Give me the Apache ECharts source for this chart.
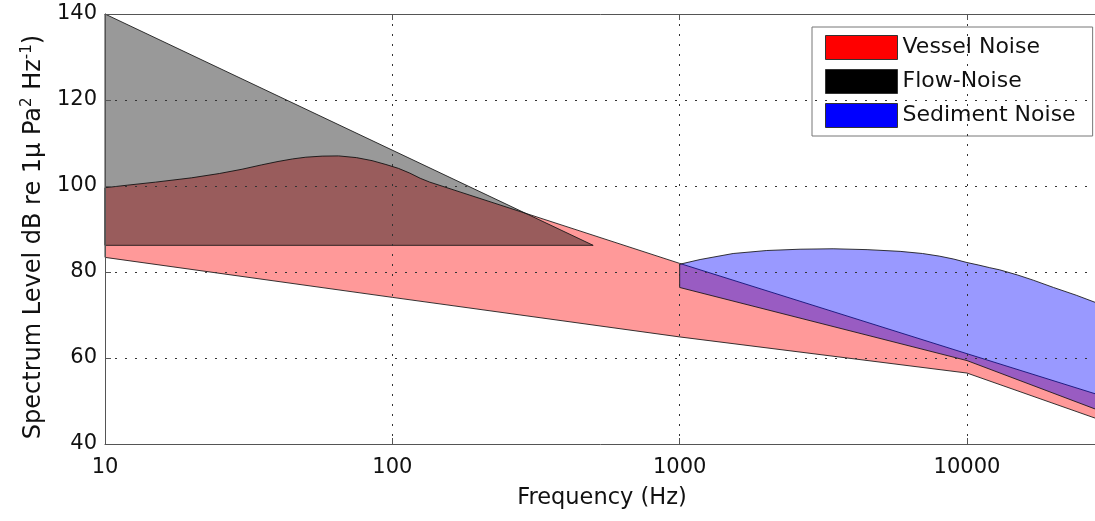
<!DOCTYPE html>
<html>
<head>
<meta charset="utf-8">
<script src="https://cdn.jsdelivr.net/npm/echarts@6/dist/echarts.min.js"></script>
<style>
  html, body { margin: 0; padding: 0; background: #fff; }
  #chart { width: 1095px; height: 521px; }
</style>
</head>
<body>
<div id="chart"></div>
<script>
// ---- data (frequency in Hz, level in dB) ----
const xTickValues = [10, 100, 1000, 10000];
const yTickValues = [40, 60, 80, 100, 120, 140];
const xMin = 10;
const xMax = 28800;

// Vessel noise band: upper edge left->right, then lower edge right->left
const vesselNoise = [
  [10, 99.6], [12, 100.2], [15, 100.9], [20, 101.9], [25, 102.9], [30, 103.9],
  [35, 104.9], [40, 105.7], [45, 106.3], [50, 106.7], [57, 106.95], [65, 107.0],
  [75, 106.6], [85, 105.9], [95, 105.0], [105, 104.1], [115, 103.0], [125, 101.8],
  [135, 100.9], [1000, 82.0], [10000, 61.0], [28800, 51.4],
  [28800, 45.7], [10000, 56.5], [1000, 64.9], [100, 74.1], [10, 83.4]
];
// Flow noise triangle
const flowNoise = [
  [10, 140], [500, 86.2], [10, 86.2]
];
// Sediment noise band
const sedimentNoise = [
  [1000, 81.8], [1178, 82.9], [1535, 84.3], [2010, 85.0], [2624, 85.3],
  [3420, 85.4], [4490, 85.2], [5850, 84.8], [7000, 84.3], [8000, 83.7],
  [9000, 83.0], [10000, 82.2], [11000, 81.6], [12000, 81.0], [13000, 80.5],
  [15000, 79.3], [17000, 78.1], [20000, 76.4], [24000, 74.6], [28800, 72.6],
  [28800, 47.8], [10000, 59.4], [1000, 76.4]
];

const seriesNames = ['Vessel Noise', 'Flow-Noise', 'Sediment Noise'];
const seriesData = [vesselNoise, flowNoise, sedimentNoise];
const solidColors = ['#ff0000', '#000000', '#0000ff'];
const fillColors = ['rgba(255,0,0,0.4)', 'rgba(0,0,0,0.4)', 'rgba(0,0,255,0.4)'];

const FONT = '"DejaVu Sans", "Liberation Sans", Arial, sans-serif';

const chart = echarts.init(document.getElementById('chart'), null, { renderer: 'canvas' });

function makeSeries(i) {
  const pts = seriesData[i];
  return {
    name: seriesNames[i],
    type: 'custom',
    z: 1,
    itemStyle: { color: solidColors[i] },
    data: pts,
    encode: { x: 0, y: 1 },
    renderItem: function (params, api) {
      if (params.dataIndex !== 0) return null;
      const coords = pts.map(p => api.coord(p));
      return {
        type: 'polygon',
        shape: { points: coords },
        style: { fill: fillColors[i], stroke: 'rgba(20,20,20,0.85)', lineWidth: 1 }
      };
    }
  };
}

const option = {
  backgroundColor: '#fff',
  animation: false,
  textStyle: { fontFamily: FONT },
  grid: {
    left: 105, right: -4, top: 14, bottom: 77,
    show: false,
    containLabel: false,
    outerBoundsMode: 'none'
  },
  legend: {
    orient: 'vertical',
    left: 812, top: 27,
    itemWidth: 72, itemHeight: 24, itemGap: 9,
    padding: [8, 17, 8, 13],
    backgroundColor: '#fff',
    borderColor: '#777', borderWidth: 1,
    icon: 'rect',
    selectedMode: false,
    textStyle: { fontFamily: FONT, fontSize: 22, color: '#111' },
    data: seriesNames.map((n, i) => ({
      name: n,
      itemStyle: { color: solidColors[i], borderColor: '#333', borderWidth: 1 }
    }))
  },
  xAxis: [{
    type: 'log', logBase: 10, min: xMin, max: xMax, z: 4,
    name: 'Frequency (Hz)', nameLocation: 'middle', nameGap: 43,
    nameTextStyle: { fontFamily: FONT, fontSize: 22.5, color: '#111' },
    axisLine: { show: true, lineStyle: { color: '#555', width: 1 } },
    axisTick: { show: true, inside: true, length: 6, lineStyle: { color: '#555' } },
    axisLabel: {
      fontFamily: FONT, fontSize: 21, color: '#111', margin: 13,
      formatter: function (v) {
        const r = xTickValues.find(t => Math.abs(t - v) / t < 1e-6);
        return r ? String(r) : '';
      }
    },
    splitLine: { show: true, lineStyle: { color: '#333', type: [2, 8], width: 1 } },
    minorTick: { show: false }
  }, {
    type: 'log', logBase: 10, min: xMin, max: xMax, position: 'top', z: 4,
    axisLine: { show: true, lineStyle: { color: '#555', width: 1 } },
    axisTick: { show: true, inside: true, length: 6, lineStyle: { color: '#555' } },
    axisLabel: { show: false },
    splitLine: { show: false }
  }],
  yAxis: {
    type: 'value', min: 40, max: 140, interval: 20, z: 4,
    name: '{a|Spectrum Level dB re 1μ Pa}{s|2}{a| Hz}{s|-1}{e|)}',
    nameLocation: 'middle', nameGap: 57,
    nameTextStyle: {
      fontFamily: FONT, fontSize: 24, color: '#111',
      rich: {
        a: { fontFamily: FONT, fontSize: 24, color: '#111', lineHeight: 28 },
        e: { fontFamily: FONT, fontSize: 24, color: '#111', lineHeight: 28, padding: [0, 16, 0, 0] },
        s: { fontFamily: FONT, fontSize: 15, color: '#111', verticalAlign: 'top', lineHeight: 16 }
      }
    },
    axisLine: { show: true, lineStyle: { color: '#555', width: 1 } },
    axisTick: { show: true, inside: true, length: 6, lineStyle: { color: '#555' } },
    axisLabel: {
      fontFamily: FONT, fontSize: 21, color: '#111', margin: 8,
      formatter: function (v) { return yTickValues.indexOf(v) >= 0 ? String(v) : ''; }
    },
    splitLine: { show: true, lineStyle: { color: '#333', type: [2, 8], width: 1 } }
  },
  series: [makeSeries(0), makeSeries(1), makeSeries(2)]
};

chart.setOption(option);
</script>
</body>
</html>
